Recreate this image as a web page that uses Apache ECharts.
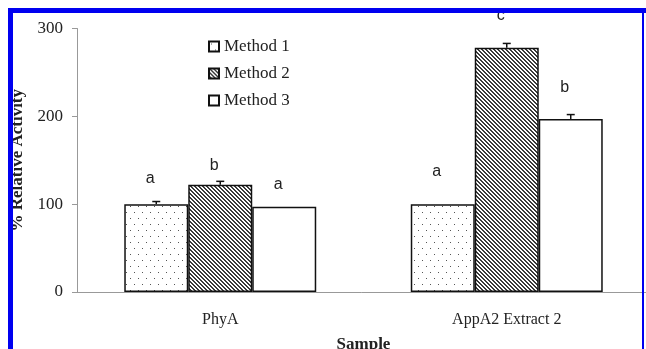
<!DOCTYPE html>
<html>
<head>
<meta charset="utf-8">
<script src="https://cdn.jsdelivr.net/npm/echarts@6/dist/echarts.min.js"></script>
<style>
  html, body {margin: 0; padding: 0; background: #fff;}
  #chart {width: 646px; height: 349px;}
</style>
</head>
<body>
<div id="chart"></div>
<script>
// data
var categories = ['PhyA', 'AppA2 Extract 2'];
var methodNames = ['Method 1', 'Method 2', 'Method 3'];
var method1 = [100, 100];
var method2 = [122, 278];
var method3 = [97, 197];
var err1 = [3, 0];
var err2 = [4, 5];
var err3 = [0, 5];
var letters1 = ['a', 'a'];
var letters2 = ['b', 'c'];
var letters3 = ['a', 'b'];
var yTicks = [0, 100, 200, 300];

// label lift above each bar (style only)
var letterLift = [[18, 25], [11, 24], [14, 23]];

function dotPattern() {
    var c = document.createElement('canvas');
    c.width = 8; c.height = 12;
    var ctx = c.getContext('2d');
    ctx.fillStyle = '#fff';
    ctx.fillRect(0, 0, 8, 12);
    ctx.fillStyle = '#555';
    ctx.fillRect(2, 2, 1, 1);
    ctx.fillRect(6, 8, 1, 1);
    return c;
}

function hatchPattern() {
    var c = document.createElement('canvas');
    c.width = 4; c.height = 4;
    var ctx = c.getContext('2d');
    ctx.fillStyle = '#fff';
    ctx.fillRect(0, 0, 4, 4);
    ctx.fillStyle = '#3a3a3a';
    for (var i = 0; i < 4; i++) {
        ctx.fillRect(i, i, 1, 1);
        ctx.fillRect((i + 1) % 4, i, 1, 1);
    }
    return c;
}

var fills = [
    {image: dotPattern(), repeat: 'repeat'},
    {image: hatchPattern(), repeat: 'repeat'},
    '#fff'
];

var values = [method1, method2, method3];
var errors = [err1, err2, err3];
var letters = [letters1, letters2, letters3];

var myChart = echarts.init(document.getElementById('chart'));

var series = [];
for (var m = 0; m < 3; m++) {
    (function (m) {
        series.push({
            name: methodNames[m],
            type: 'bar',
            barGap: 0,
            barCategoryGap: '33%',
            itemStyle: {color: fills[m], borderColor: '#111', borderWidth: 1.5},
            emphasis: {disabled: true},
            data: values[m].map(function (v, i) {
                return {
                    value: v,
                    label: {
                        show: true, position: 'top', distance: letterLift[m][i], offset: [-6, 0],
                        formatter: letters[m][i],
                        fontFamily: 'Liberation Sans', fontSize: 16, color: '#222'
                    }
                };
            })
        });
    })(m);
}

// error bars (upper whisker only)
var errData = [];
for (var m2 = 0; m2 < 3; m2++) {
    for (var i = 0; i < categories.length; i++) {
        if (errors[m2][i] > 0) errData.push([i, m2, values[m2][i], errors[m2][i]]);
    }
}
series.push({
    type: 'custom',
    silent: true,
    z: 5,
    renderItem: function (params, api) {
        var cat = api.value(0), mi = api.value(1), v = api.value(2), e = api.value(3);
        var band = api.size([1, 0])[0];
        var barW = band * 0.67 / 3;
        var base = api.coord([cat, v]);
        var top = api.coord([cat, v + e]);
        var x = base[0] + (mi - 1) * barW;
        var st = {stroke: '#111', lineWidth: 1.5};
        return {
            type: 'group',
            children: [
                {type: 'line', shape: {x1: x, y1: base[1], x2: x, y2: top[1]}, style: st},
                {type: 'line', shape: {x1: x - 4, y1: top[1], x2: x + 4, y2: top[1]}, style: st}
            ]
        };
    },
    data: errData
});

var option = {
    animation: false,
    backgroundColor: '#fff',
    grid: {left: 77, top: 28.5, width: 573, height: 263.5, outerBoundsMode: 'none', containLabel: false},
    legend: {
        orient: 'vertical',
        left: 203, top: 33,
        icon: 'rect',
        itemWidth: 10, itemHeight: 10, itemGap: 10,
        data: methodNames,
        textStyle: {fontFamily: 'Liberation Serif', fontSize: 17, color: '#222', lineHeight: 17}
    },
    xAxis: {
        type: 'category',
        data: categories,
        name: 'Sample',
        nameLocation: 'middle',
        nameGap: 44,
        nameTextStyle: {fontFamily: 'Liberation Serif', fontSize: 17, fontWeight: 'bold', color: '#222'},
        axisLine: {lineStyle: {color: '#999', width: 1}},
        axisTick: {show: false},
        axisLabel: {margin: 20, fontFamily: 'Liberation Serif', fontSize: 16, color: '#222'}
    },
    yAxis: {
        type: 'value',
        min: yTicks[0], max: yTicks[yTicks.length - 1], interval: 100,
        name: '% Relative Activity',
        nameLocation: 'middle',
        nameGap: 45,
        nameTextStyle: {fontFamily: 'Liberation Serif', fontSize: 17, fontWeight: 'bold', color: '#222'},
        axisLine: {show: true, lineStyle: {color: '#999', width: 1}},
        axisTick: {show: true, length: 5, lineStyle: {color: '#999'}},
        splitLine: {show: false},
        axisLabel: {margin: 14, fontFamily: 'Liberation Serif', fontSize: 17, color: '#222'}
    },
    graphic: [
        {type: 'rect', z: 100, shape: {x: 8, y: 8, width: 638, height: 5}, style: {fill: '#0000f0'}},
        {type: 'rect', z: 100, shape: {x: 8, y: 8, width: 5, height: 341}, style: {fill: '#0000f0'}},
        {type: 'rect', z: 100, shape: {x: 642, y: 8, width: 2, height: 341}, style: {fill: '#0000f0'}}
    ],
    series: series
};
myChart.setOption(option);
</script>
</body>
</html>
